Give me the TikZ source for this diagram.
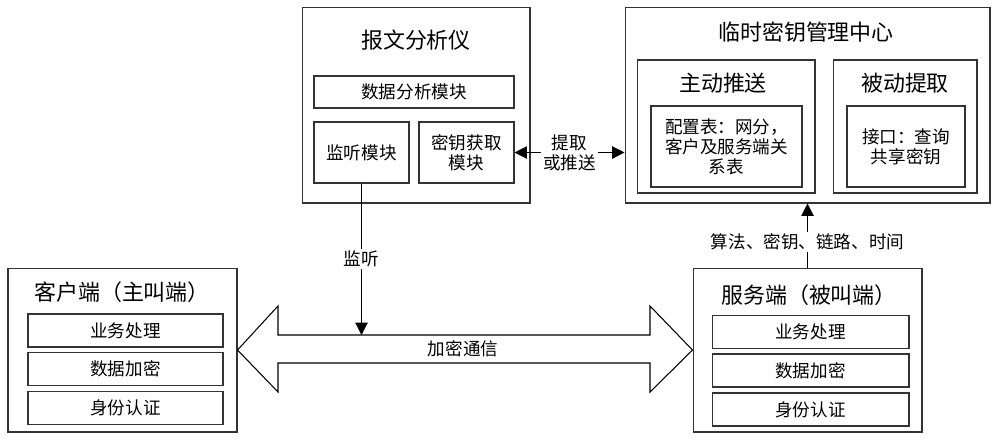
\documentclass[tikz,border=0pt]{standalone}
\usepackage{fontspec}
\setmainfont{Noto Sans CJK SC}
\usetikzlibrary{positioning}
\usetikzlibrary{arrows.meta}

\begin{document}
\begin{tikzpicture}[x=0.02cm,y=-0.02cm,
	box/.style={draw=black!80,line width=0.6pt,inner sep=0pt},
	title/.style={font=\fontsize{12.5pt}{15pt}\selectfont},
	txt/.style={font=\fontsize{10pt}{11.4pt}\selectfont,align=center},
	conn/.style={line width=0.6pt,-{Triangle[length=7pt,width=7pt]}}]
	\useasboundingbox (0,0) rectangle (1000,441);
	% message analyser
	\node[box,minimum width=4.56cm,minimum height=3.92cm] (analyser) at (416,105) {};
	\node[title] (analysertitle) at (416,40) {报文分析仪};
	\node[box,txt,minimum width=4cm,minimum height=0.64cm] (analysis) at (414,92) {数据分析模块};
	\node[box,txt,minimum width=1.9cm,minimum height=1.22cm] (listen) at (361.5,152.5) {监听模块};
	\node[box,txt,minimum width=1.9cm,minimum height=1.22cm] (keyget) at (466.5,152.5) {密钥获取\\模块};
	% temporary key centre
	\node[box,minimum width=7.3cm,minimum height=3.92cm] (keycenter) at (807.5,105) {};
	\node[title] (keytitle) at (806,32) {临时密钥管理中心};
	\node[box,minimum width=3.56cm,minimum height=2.66cm] (push) at (726,126.5) {};
	\node[title] (pushtitle) at (723,83) {主动推送};
	\node[box,txt,minimum width=3.02cm,minimum height=1.62cm] (pushtable) at (726.5,146.5) {配置表：网分，\\客户及服务端关\\系表};
	\node[box,minimum width=2.88cm,minimum height=2.66cm] (pull) at (905,126.5) {};
	\node[title] (pulltitle) at (905,83) {被动提取};
	\node[box,txt,minimum width=2.36cm,minimum height=1.62cm] (pullapi) at (906,146.5) {接口：查询\\共享密钥};
	% client and server
	\node[box,minimum width=4.58cm,minimum height=3.28cm] (client) at (122.5,350) {};
	\node[title] (clienttitle) at (122,292) {客户端（主叫端）};
	\node[box,minimum width=4.58cm,minimum height=3.28cm] (server) at (807.5,350) {};
	\node[title] (servertitle) at (809,295) {服务端（被叫端）};
	\foreach \t/\y [count=\i] in {业务处理/330.5,数据加密/369,身份认证/408} {
		\node[box,txt,minimum width=3.9cm,minimum height=0.66cm] (client\i) at (125.5,\y) {\t};
		\node[box,txt,minimum width=3.94cm,minimum height=0.66cm] (server\i) at (810.5,\y+1.5) {\t};
	}
	% encrypted channel
	\draw[line width=0.6pt] (client.east) -- (278,306) -- (278,335) -- (650,335) -- (650,306)
		-- (server.west) -- (650,392) -- (650,363) -- (278,363) -- (278,392) -- cycle;
	\node[txt] (channel) at (463,349) {加密通信};
	\coordinate (tap) at (361.5,335);
	% connectors
	\draw[conn] (listen.south) -- node[txt,fill=white,inner sep=1pt] {监听} (tap);
	\draw[conn,{Triangle[length=7pt,width=7pt]}-{Triangle[length=7pt,width=7pt]}] (keyget.east) -- node[txt,fill=white,inner sep=1pt] {提取\\或推送} (keycenter.west |- keyget.east);
	\draw[conn] (server.north) -- node[txt,fill=white,inner sep=1pt,pos=0.4] {算法、密钥、链路、时间} (keycenter.south);
\end{tikzpicture}
\end{document}
